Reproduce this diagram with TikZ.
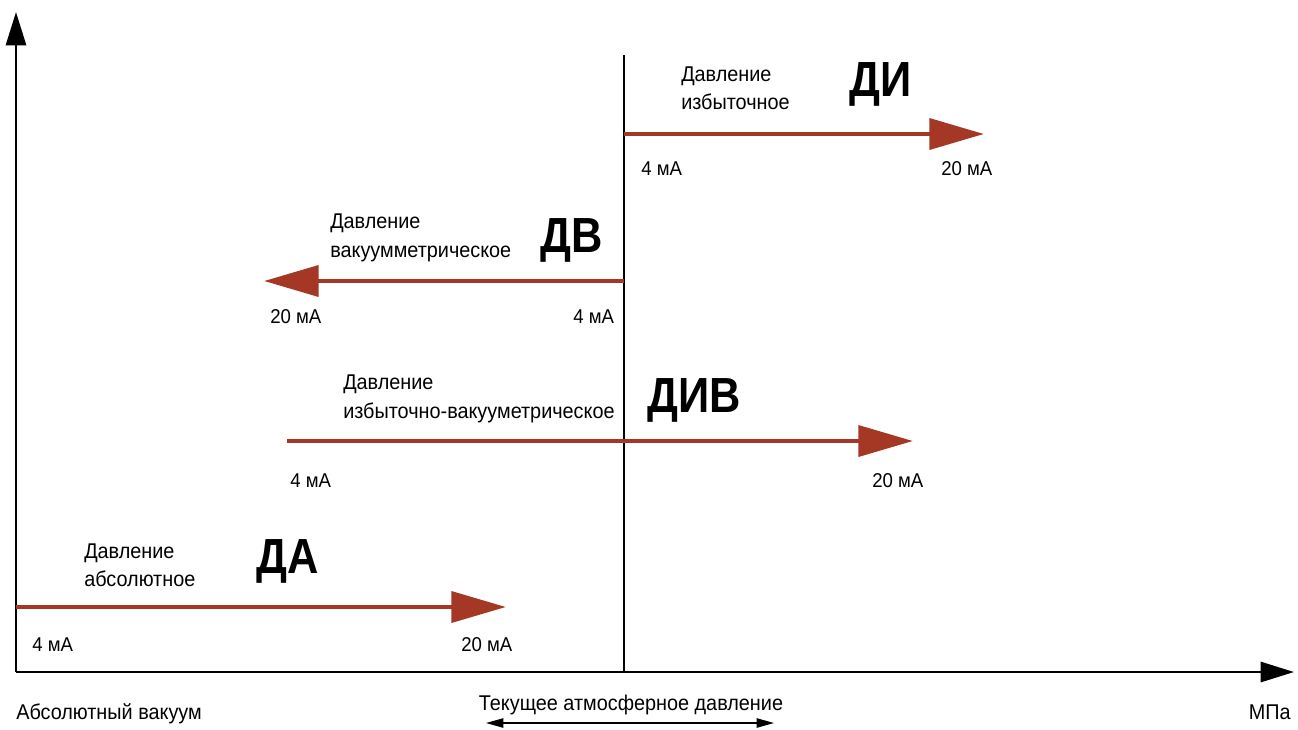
\documentclass[tikz,border=0pt]{standalone}
\usepackage{fontspec}
\setmainfont[FakeStretch=0.93]{Liberation Sans}
\newfontfamily\headfont[FakeStretch=0.88]{Liberation Sans}
\usetikzlibrary{arrows.meta}
\definecolor{brick}{RGB}{165,56,36}
\tikzset{
  px/.style={x=0.75pt,y=-0.75pt},
  axis/.style={line width=2.2pt,-{Triangle[length=25pt,width=15pt]}},
  rangearrow/.style={draw=brick,line width=3.6pt,-{Triangle[length=41pt,width=23pt]}},
  lbl/.style={inner sep=0pt,anchor=base west,font=\fontsize{16pt}{19pt}\selectfont},
  big/.style={inner sep=0pt,anchor=base west,font=\headfont\fontsize{37pt}{40pt}\selectfont\bfseries},
  ma/.style={inner sep=0pt,anchor=base west,font=\fontsize{15pt}{18pt}\selectfont},
}
\begin{document}
\begin{tikzpicture}[px]
\useasboundingbox (0,0) rectangle (1298,729);
% axes
\coordinate (O) at (16,672);
\coordinate (Ytop) at (16,12);
\coordinate (Xend) at (1294,672);
\draw[axis] (O) -- (Ytop);
\draw[axis] (O) -- (Xend);
% atmospheric line
\coordinate (Atop) at (624,55);
\coordinate (Abot) at (624,672);
\draw[line width=1.1pt] (Atop) -- (Abot);
% DI
\coordinate (di1) at (624,134);
\coordinate (di2) at (984,134);
\draw[rangearrow] (di1) -- (di2);
\node[lbl] (diT1) at (681,81) {Давление};
\node[lbl] (diT2) at (681,109) {избыточное};
\node[big] (diB) at (849,96) {ДИ};
\node[ma] (di4) at (641,175) {4 мА};
\node[ma] (di20) at (941,175) {20 мА};
% DV
\coordinate (dv1) at (624,281);
\coordinate (dv2) at (264,281);
\draw[rangearrow] (dv1) -- (dv2);
\node[lbl] (dvT1) at (330,228) {Давление};
\node[lbl] (dvT2) at (330,257) {вакуумметрическое};
\node[big] (dvB) at (540,252) {ДВ};
\node[ma] (dv20) at (270,323) {20 мА};
\node[ma] (dv4) at (573,323) {4 мА};
% DIV
\coordinate (div1) at (287,441);
\coordinate (div2) at (913,441);
\draw[rangearrow] (div1) -- (div2);
\node[lbl] (divT1) at (343,389) {Давление};
\node[lbl] (divT2) at (343,418) {избыточно-вакууметрическое};
\node[big] (divB) at (647,412) {ДИВ};
\node[ma] (div4) at (290,487) {4 мА};
\node[ma] (div20) at (872,487) {20 мА};
% DA
\coordinate (da1) at (16,607);
\coordinate (da2) at (506,607);
\draw[rangearrow] (da1) -- (da2);
\node[lbl] (daT1) at (84,558) {Давление};
\node[lbl] (daT2) at (84,586) {абсолютное};
\node[big] (daB) at (256,573) {ДА};
\node[ma] (da4) at (32,651) {4 мА};
\node[ma] (da20) at (461,651) {20 мА};
% bottom
\node[lbl] (vac) at (16,719) {Абсолютный вакуум};
\node[lbl,anchor=base east] (mpa) at (1291,719) {МПа};
\node[lbl,anchor=base] (atm) at (631,710) {Текущее атмосферное давление};
\coordinate (b1) at (486,723);
\coordinate (b2) at (774,723);
\draw[line width=1.1pt,{Triangle[length=13pt,width=7pt]}-{Triangle[length=13pt,width=7pt]}] (b1) -- (b2);
\end{tikzpicture}
\end{document}
